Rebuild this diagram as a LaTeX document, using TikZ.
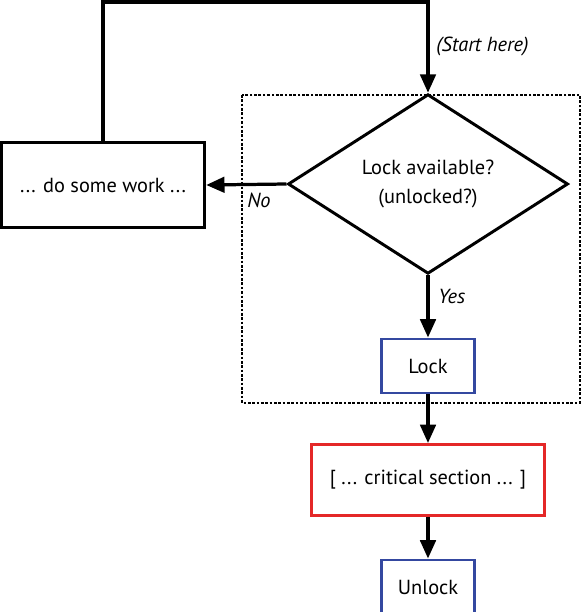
\documentclass[tikz,border=0pt]{standalone}
\usepackage{fontspec}
\setmainfont{PT Sans}
\usetikzlibrary{shapes.geometric,arrows.meta}

\definecolor{lockblue}{RGB}{52,72,160}
\definecolor{critred}{RGB}{228,40,40}

\tikzset{
    flow/.style={line width=2.3pt, -{Triangle[length=13pt,width=11pt]}},
    box/.style={draw, line width=2.1pt, inner sep=0pt, align=center},
    note/.style={font=\fontsize{14.5}{17}\selectfont\itshape, inner sep=0pt},
}

\begin{document}
\begin{tikzpicture}[x=0.025cm, y=-0.025cm, font=\fontsize{14.5}{20}\selectfont]
    \useasboundingbox (0,0) rectangle (583,612);
    %\draw [black!20] (0,0) grid [step=50] (583,612);
    \draw [line width=2.1pt, dash pattern=on 1.9pt off 1.2pt] (242,95) rectangle (580,403);
    \node [box, diamond, minimum width=7cm, minimum height=4.425cm] (avail) at (428,184) {Lock available?\\(unlocked?)};
    \node [box, line width=2.4pt, minimum width=5.075cm, minimum height=2.125cm] (work) at (103,185) {... do some work ...};
    \node [box, draw=lockblue, minimum width=2.325cm, minimum height=1.35cm] (lock) at (428,366) {Lock};
    \node [box, draw=critred, minimum width=5.825cm, minimum height=1.775cm] (crit) at (428,480) {[ ... critical section ... ]};
    \node [box, draw=lockblue, minimum width=2.325cm, minimum height=1.35cm] (unlock) at (428,587) {Unlock};
    \coordinate (top) at (428,2);
    % loop back to the test
    \draw [flow] (work.north) |- (top) -- (avail.north);
    \draw [flow] (avail.west) -- (work.east);
    \draw [flow] (avail.south) -- (lock.north);
    \draw [flow] (lock.south) -- (crit.north);
    \draw [flow] (crit.south) -- (unlock.north);
    \node [note, right] (start) at (436,46) {(Start here)};
    \node [note] (no) at (259,200) {No};
    \node [note, right] (yes) at (438,296) {Yes};
\end{tikzpicture}
\end{document}
